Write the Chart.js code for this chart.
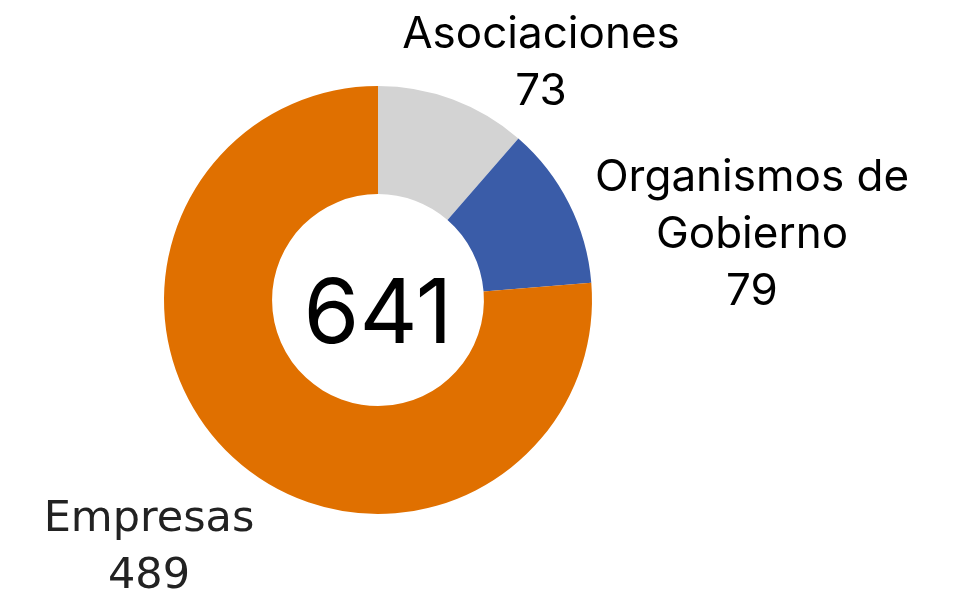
<!DOCTYPE html>
<html>
<head>
<meta charset="utf-8">
<script src="https://cdn.jsdelivr.net/npm/chart.js@4/dist/chart.umd.min.js"></script>
<style>
  html, body { margin: 0; padding: 0; background: #fff; }
  #wrap { width: 958px; height: 594px; position: relative; }
</style>
</head>
<body>
<div id="wrap"><canvas id="donut"></canvas></div>
<script>
// datos del gráfico
const categorias = ['Asociaciones', 'Organismos de Gobierno', 'Empresas'];
const etiquetas = [['Asociaciones'], ['Organismos de', 'Gobierno'], ['Empresas']];
const valores = [73, 79, 489];
const colores = ['#d3d3d3', '#3a5ca8', '#e07000'];

const total = valores.reduce((a, b) => a + b, 0);

// desplazamiento de cada etiqueta respecto al centro del anillo (primera línea)
const posEtiquetas = [
    { dx: 163, dy: -265, color: '#000', font: '44px Inter' },
    { dx: 374, dy: -122, color: '#000', font: '44px Inter' },
    { dx: -229, dy: 220, color: '#222', font: '43px "DejaVu Sans"' }
];

const textoPlugin = {
    id: 'textoDonut',
    afterDraw(chart) {
        const ctx = chart.ctx;
        const arco = chart.getDatasetMeta(0).data[0];
        const cx = arco.x, cy = arco.y;

        ctx.save();
        ctx.textAlign = 'center';
        ctx.textBaseline = 'middle';

        // total en el centro
        ctx.fillStyle = '#000';
        ctx.font = '90px Inter';
        ctx.fillText(String(total), cx, cy + 16);

        etiquetas.forEach((lineas, i) => {
            const p = posEtiquetas[i];
            ctx.fillStyle = p.color;
            ctx.font = p.font;
            const todas = lineas.concat([String(valores[i])]);
            todas.forEach((t, j) => {
                ctx.fillText(t, cx + p.dx, cy + p.dy + j * 57);
            });
        });
        ctx.restore();
    }
};

new Chart(document.getElementById('donut'), {
    type: 'doughnut',
    data: {
        labels: categorias,
        datasets: [{
            data: valores,
            backgroundColor: colores,
            borderWidth: 0,
            hoverOffset: 0
        }]
    },
    options: {
        responsive: true,
        maintainAspectRatio: false,
        animation: false,
        cutout: '49.5%',
        layout: { padding: { left: 164, right: 366, top: 86, bottom: 80 } },
        plugins: {
            legend: { display: false },
            tooltip: { enabled: false }
        }
    },
    plugins: [textoPlugin]
});
</script>
</body>
</html>
